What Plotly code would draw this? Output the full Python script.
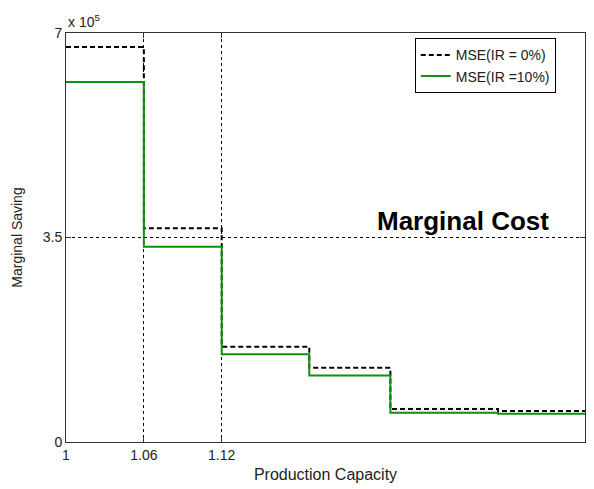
import plotly.graph_objects as go

# Step boundaries along production capacity
capacity_edges = [1.0, 1.06, 1.12, 1.1875, 1.25, 1.333, 1.4]
# Marginal saving per step (units of 1e5)
mse_ir0 = [6.76, 3.66, 1.63, 1.27, 0.565, 0.53]
mse_ir10 = [6.16, 3.34, 1.50, 1.14, 0.50, 0.485]

x_ticks = [1.0, 1.06, 1.12, 1.4]
x_ticktext = ["1", "1.06", "1.12", "1.4"]
y_ticks = [0, 3.5, 7]
y_ticktext = ["0", "3.5", "7"]

FONT = "Arial, Liberation Sans, sans-serif"
TEXT = "#222"

fig = go.Figure()
fig.add_trace(go.Scatter(
    x=capacity_edges, y=mse_ir0 + [mse_ir0[-1]],
    mode="lines", line_shape="hv",
    line=dict(color="black", width=2, dash="5px,3px"),
    name="MSE(IR = 0%)",
))
fig.add_trace(go.Scatter(
    x=capacity_edges, y=mse_ir10 + [mse_ir10[-1]],
    mode="lines", line_shape="hv",
    line=dict(color="#109010", width=2),
    name="MSE(IR =10%)",
))

fig.add_annotation(
    x=1.306, y=3.78, xref="x", yref="y", text="<b>Marginal Cost</b>",
    showarrow=False, font=dict(family=FONT, size=26, color="black"),
)
fig.add_annotation(
    x=0, y=1, xref="paper", yref="paper", xanchor="left", yanchor="bottom",
    text="x 10<sup>5</sup>", showarrow=False, yshift=1,
    font=dict(family=FONT, size=14, color=TEXT),
)

axis_common = dict(
    showline=True, linecolor="#333", linewidth=1, mirror="ticks",
    ticks="inside", ticklen=5, tickcolor="#333",
    showgrid=True, gridcolor="black", gridwidth=1, griddash="3px,3px",
    zeroline=False, tickfont=dict(family=FONT, size=14, color=TEXT),
)

fig.update_xaxes(
    range=[1.0, 1.4], tickvals=x_ticks, ticktext=x_ticktext,
    title=dict(text="Production Capacity", font=dict(family=FONT, size=16, color=TEXT), standoff=7),
    **axis_common,
)
fig.update_yaxes(
    range=[0, 7], tickvals=y_ticks, ticktext=y_ticktext,
    title=dict(text="Marginal Saving", font=dict(family=FONT, size=14, color=TEXT), standoff=16),
    **axis_common,
)

fig.update_layout(
    width=594, height=489,
    margin=dict(l=66, r=9, t=33, b=47),
    paper_bgcolor="white", plot_bgcolor="white",
    showlegend=True,
    legend=dict(
        x=0.672, y=0.987, xanchor="left", yanchor="top",
        bgcolor="white", bordercolor="black", borderwidth=1,
        font=dict(family=FONT, size=14, color=TEXT),
        tracegroupgap=0, itemwidth=30,
    ),
)

fig.write_html("out.html")
